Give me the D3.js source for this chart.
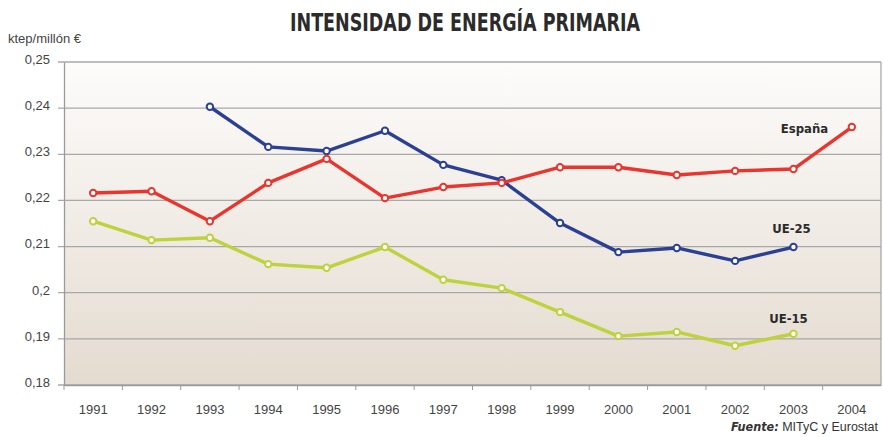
<!DOCTYPE html>
<html>
<head>
<meta charset="utf-8">
<script src="https://cdn.jsdelivr.net/npm/d3@7"></script>
<style>
  body { margin: 0; background: #fff; }
  svg { display: block; font-family: "Liberation Sans", Arial, sans-serif; }
  .axis path, .axis line { stroke: #9a9a9a; }
  .axis text { fill: #444; font-size: 13px; }
</style>
</head>
<body>
<div id="chart"></div>
<script>
const YEARS = ["1991","1992","1993","1994","1995","1996","1997","1998","1999","2000","2001","2002","2003","2004"];
const Y_TICKS = [0.18, 0.19, 0.20, 0.21, 0.22, 0.23, 0.24, 0.25];

const ESPANA = [0.2216, 0.2220, 0.2155, 0.2238, 0.2290, 0.2205, 0.2229, 0.2238, 0.2272, 0.2272, 0.2255, 0.2264, 0.2268, 0.2359];
const UE25 = [null, null, 0.2403, 0.2316, 0.2307, 0.2351, 0.2277, 0.2244, 0.2151, 0.2088, 0.2097, 0.2069, 0.2099, null];
const UE15 = [0.2155, 0.2114, 0.2119, 0.2062, 0.2054, 0.2099, 0.2028, 0.2010, 0.1958, 0.1906, 0.1915, 0.1885, 0.1911, null];

const SERIES = [
  { name: "UE-15", values: UE15, color: "#bdd23c", label: [2003, 0.1934, -5] },
  { name: "UE-25", values: UE25, color: "#2b3f94", label: [2003, 0.2129, -2] },
  { name: "España", values: ESPANA, color: "#e9352e", label: [2003, 0.2346, 11] }
];

const W = 884, H = 437;
const margin = { top: 62, right: 3, bottom: 52, left: 64 };
const width = W - margin.left - margin.right;
const height = H - margin.top - margin.bottom;

const svg = d3.select("#chart").append("svg")
  .attr("width", W).attr("height", H);

// degradado de fondo
const grad = svg.append("defs").append("linearGradient")
  .attr("id", "bg").attr("x1", 0).attr("y1", 0).attr("x2", 0).attr("y2", 1);
grad.append("stop").attr("offset", "0%").attr("stop-color", "#fdfcfb");
grad.append("stop").attr("offset", "100%").attr("stop-color", "#e4dbd0");

// titulo
svg.append("text")
  .attr("x", 465).attr("y", 31)
  .attr("text-anchor", "middle")
  .attr("font-family", "'Liberation Sans Narrow', 'DejaVu Sans Condensed', sans-serif")
  .attr("font-weight", "bold")
  .attr("font-size", "25px")
  .attr("fill", "#2b2b2b")
  .attr("textLength", 350)
  .attr("lengthAdjust", "spacingAndGlyphs")
  .text("INTENSIDAD DE ENERGÍA PRIMARIA");

svg.append("text")
  .attr("x", 8).attr("y", 43)
  .attr("font-size", "13px")
  .attr("fill", "#444")
  .text("ktep/millón €");

const g = svg.append("g").attr("transform", `translate(${margin.left},${margin.top})`);

const x = d3.scaleBand().domain(YEARS).range([0, width]);
const y = d3.scaleLinear().domain([0.18, 0.25]).range([height, 0]);

g.append("rect")
  .attr("width", width).attr("height", height)
  .attr("fill", "url(#bg)");

// rejilla
g.append("g")
  .selectAll("line")
  .data(Y_TICKS)
  .join("line")
  .attr("x1", -6).attr("x2", width)
  .attr("y1", d => y(d)).attr("y2", d => y(d))
  .attr("stroke", "#a9a9a9").attr("stroke-width", 1.3);

// borde derecho
g.append("line")
  .attr("x1", width).attr("x2", width)
  .attr("y1", 0).attr("y2", height)
  .attr("stroke", "#a9a9a9").attr("stroke-width", 1.3);

// eje Y
g.append("g")
  .attr("class", "axis")
  .call(d3.axisLeft(y).tickValues(Y_TICKS).tickSize(0).tickPadding(14)
    .tickFormat(d => d3.format(".2f")(d).replace(".", ",").replace(/0$/, d === 0.20 ? "" : "0")))
  .call(a => a.select(".domain").attr("stroke-width", 1.3))
  .selectAll("text").attr("dy", "0.1em");

// eje X
const xAxis = g.append("g")
  .attr("class", "axis")
  .attr("transform", `translate(0,${height})`)
  .call(d3.axisBottom(x).tickSize(0).tickPadding(20));
xAxis.select(".domain").attr("stroke-width", 1.3);
xAxis.selectAll(".sep")
  .data(YEARS)
  .join("line")
  .attr("class", "sep")
  .attr("x1", d => x(d)).attr("x2", d => x(d))
  .attr("y1", 0).attr("y2", 5)
  .attr("stroke", "#9a9a9a");

const line = d3.line()
  .defined(d => d.v != null)
  .x(d => x(d.year) + x.bandwidth() / 2)
  .y(d => y(d.v));

SERIES.forEach(s => {
  const pts = YEARS.map((year, i) => ({ year, v: s.values[i] }));
  g.append("path")
    .datum(pts)
    .attr("fill", "none")
    .attr("stroke", s.color)
    .attr("stroke-width", 3.4)
    .attr("stroke-linejoin", "round")
    .attr("d", line);
  g.selectAll(null)
    .data(pts.filter(d => d.v != null))
    .join("circle")
    .attr("cx", d => x(d.year) + x.bandwidth() / 2)
    .attr("cy", d => y(d.v))
    .attr("r", 3.2)
    .attr("fill", "#fff")
    .attr("stroke", s.color)
    .attr("stroke-width", 2);
  g.append("text")
    .attr("x", x(String(s.label[0])) + x.bandwidth() / 2 + s.label[2])
    .attr("y", y(s.label[1]))
    .attr("text-anchor", "middle")
    .attr("font-family", "'Liberation Sans Narrow', 'DejaVu Sans Condensed', sans-serif")
    .attr("font-weight", "bold")
    .attr("font-size", "13px")
    .attr("fill", "#2b2b2b")
    .text(s.name);
});

// fuente
const src = svg.append("text")
  .attr("x", 878).attr("y", 431)
  .attr("text-anchor", "end")
  .attr("font-size", "12.5px")
  .attr("fill", "#333");
src.append("tspan")
  .attr("font-family", "'Liberation Sans Narrow', 'DejaVu Sans Condensed', sans-serif")
  .attr("font-weight", "bold").attr("font-style", "italic")
  .text("Fuente:");
src.append("tspan").text(" MITyC y Eurostat");
</script>
</body>
</html>
